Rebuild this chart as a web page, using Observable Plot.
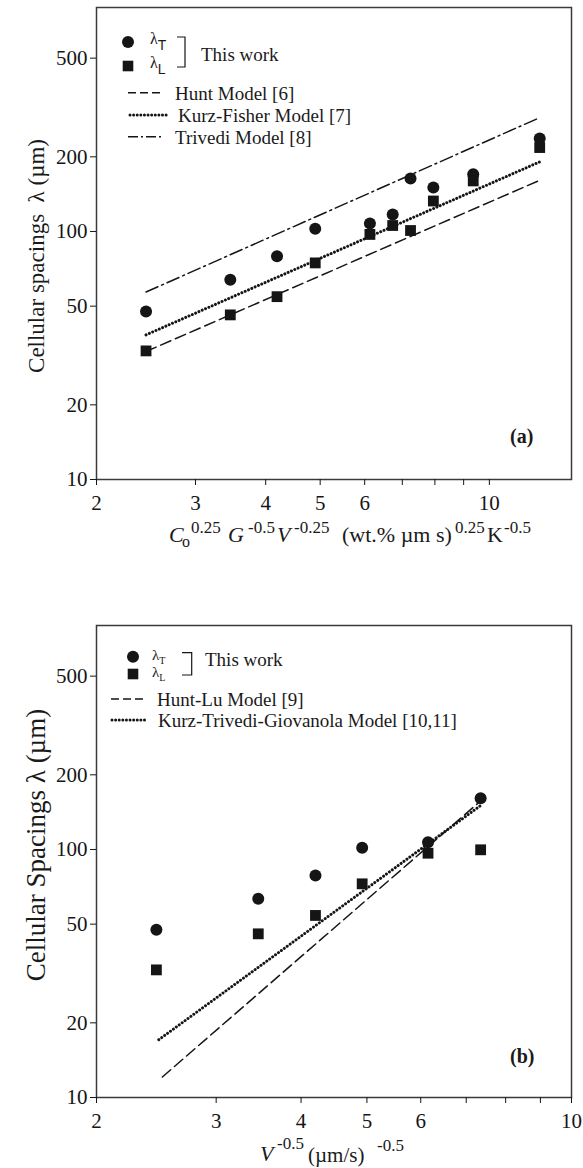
<!DOCTYPE html>
<html><head><meta charset="utf-8">
<script src="https://cdn.jsdelivr.net/npm/d3@7"></script>
<script src="https://cdn.jsdelivr.net/npm/@observablehq/plot@0.6"></script>
<style>
body{margin:0;background:#fff}
#wrap{position:relative;width:583px;height:1168px;font-family:"Liberation Serif","Times New Roman",serif;color:#1a1a1a;overflow:hidden}
#wrap svg{display:block}
.t{position:absolute;white-space:nowrap;line-height:1}
</style></head><body><div id="wrap"></div><script>
// ---------- data ----------
const yTicks = [10, 20, 50, 100, 200, 500];
const xTicksA = [2, 3, 4, 5, 6, 7, 8, 9, 10];
const xTicksB = [2, 3, 4, 5, 6, 7, 8, 9, 10];

// panel (a)
const xA    = [2.45, 3.46, 4.19, 4.90, 6.13, 6.73, 7.24, 7.95, 9.36, 12.29];
const lamTA = [47.6, 63.9, 79.4, 102.6, 107.7, 117.2, 163.4, 150.3, 170.2, 237];
const lamLA = [33.0, 46.1, 54.6, 74.7, 97.3, 105.7, 100.9, 132.7, 159.9, 218];
const modelXA     = [2.45, 12.3];
const huntA       = [32.8, 161];
const kurzFisherA = [38.3, 191];
const trivediA    = [57, 288];

// panel (b)
const xB    = [2.45, 3.46, 4.20, 4.92, 6.15, 7.35];
const lamTB = [47.5, 63.3, 78.5, 101.6, 107, 161];
const lamLB = [32.7, 45.7, 54.2, 72.7, 96.6, 99.7];
const ktgX  = [2.47, 7.39];
const ktgB  = [17.1, 152];
const huntLuX = [2.50, 7.35];
const huntLuB = [12.1, 157];

// ---------- helpers ----------
const wrap = document.getElementById("wrap");
const INK = "#151515";
const zipXY = (xs, ys) => xs.map((x, i) => ({x, y: ys[i]}));
const BEAD = {strokeWidth: 3, strokeDasharray: "0.01,3.6", strokeLinecap: "round"};
const DASH = {strokeWidth: 1.5, strokeDasharray: "11,5"};
const DASHDOT = {strokeWidth: 1.5, strokeDasharray: "13,4,2,4"};

function text(html, left, cy, size, extra = "") {
  const d = document.createElement("div");
  d.className = "t";
  d.style.cssText = `left:${left}px;top:${cy}px;font-size:${size}px;transform:translateY(-50%);${extra}`;
  d.innerHTML = html;
  wrap.appendChild(d);
  return d;
}
function vtext(html, cx, cy, size) {
  const d = document.createElement("div");
  d.className = "t";
  d.style.cssText = `left:${cx}px;top:${cy}px;font-size:${size}px;transform:translate(-50%,-50%) rotate(-90deg);`;
  d.innerHTML = html;
  wrap.appendChild(d);
}

function panel({xs, domainX, ticksX, marginTop, marginBottom, lines, T, L, height}) {
  return Plot.plot({
    width: 583, height, marginTop, marginBottom, marginLeft: 96, marginRight: 12,
    x: {type: "log", domain: domainX},
    y: {type: "log", domain: [10, 800]},
    style: {fontFamily: '"Liberation Serif", serif', fontSize: "21px", color: INK, background: "white", overflow: "visible"},
    marks: [
      Plot.frame({stroke: "#3a3a3a", strokeWidth: 1.5}),
      Plot.axisX(ticksX, {tickSize: 6, tickPadding: 10, tickFormat: d => String(d), label: null, strokeWidth: 1, fontSize: 21}),
      Plot.axisY(yTicks, {tickSize: 6, tickPadding: 3, tickFormat: d => String(d), label: null, strokeWidth: 1, fontSize: 21}),
      ...lines.map(l => Plot.line(l.data, {x: "x", y: "y", stroke: INK, ...l.style})),
      Plot.dot(zipXY(xs, T), {x: "x", y: "y", symbol: "circle", r: 6, fill: INK}),
      Plot.dot(zipXY(xs, L), {x: "x", y: "y", symbol: "square", r: 6.1, fill: INK})
    ]
  });
}

// ---------- panel (a) ----------
const svgA = panel({
  xs: xA, domainX: [2, 14], ticksX: xTicksA, marginTop: 7, marginBottom: 105, height: 584,
  T: lamTA, L: lamLA,
  lines: [
    {data: zipXY(modelXA, huntA), style: DASH},
    {data: zipXY(modelXA, kurzFisherA), style: BEAD},
    {data: zipXY(modelXA, trivediA), style: DASHDOT}
  ]
});
wrap.appendChild(svgA);

// ---------- panel (b) ----------
const svgB = panel({
  xs: xB, domainX: [2, 10], ticksX: xTicksB, marginTop: 41, marginBottom: 71, height: 584,
  T: lamTB, L: lamLB,
  lines: [
    {data: zipXY(huntLuX, huntLuB), style: DASH},
    {data: zipXY(ktgX, ktgB), style: BEAD}
  ]
});
wrap.appendChild(svgB);

// ---------- legends (drawn in pixel space) ----------
function legendShapes(svg, dy, cfg) {
  const g = d3.select(svg).append("g").attr("transform", `translate(0,${-dy})`).attr("fill", INK).attr("stroke", "none");
  g.append("circle").attr("cx", cfg.cx).attr("cy", cfg.cT).attr("r", 6);
  g.append("rect").attr("x", cfg.cx - 5.3).attr("y", cfg.cL - 5.3).attr("width", 10.6).attr("height", 10.6);
  g.append("path").attr("d", `M${cfg.bx0},${cfg.by0}H${cfg.bx1}V${cfg.by1}H${cfg.bx0}`)
    .attr("fill", "none").attr("stroke", INK).attr("stroke-width", 1.2);
  for (const s of cfg.samples) {
    const ln = g.append("line").attr("x1", s.x0).attr("x2", s.x1).attr("y1", s.y).attr("y2", s.y)
      .attr("stroke", INK).attr("stroke-width", s.style.strokeWidth).attr("stroke-dasharray", s.style.strokeDasharray);
    if (s.style.strokeLinecap) ln.attr("stroke-linecap", s.style.strokeLinecap);
  }
}
legendShapes(svgA, 0, {
  cx: 128, cT: 42, cL: 66, bx0: 177, bx1: 185, by0: 37, by1: 67,
  samples: [
    {x0: 128, x1: 164, y: 92.7, style: {strokeWidth: 1.5, strokeDasharray: "8,4"}},
    {x0: 130, x1: 169, y: 115, style: BEAD},
    {x0: 128, x1: 162, y: 136.7, style: {strokeWidth: 1.5, strokeDasharray: "10,3,2,3"}}
  ]
});
legendShapes(svgB, 584, {
  cx: 133, cT: 656.7, cL: 674, bx0: 182, bx1: 191.7, by0: 652.7, by1: 675,
  samples: [
    {x0: 111, x1: 143, y: 699, style: {strokeWidth: 1.5, strokeDasharray: "8,4"}},
    {x0: 112, x1: 147, y: 720, style: BEAD}
  ]
});

// legend text (a)
text(`<span style="position:relative;top:-4px">λ</span><span style="font-family:'Liberation Sans',sans-serif;font-size:14px;position:relative;top:2px">T</span>`, 150, 43, 16);
text(`<span style="position:relative;top:-4px">λ</span><span style="font-family:'Liberation Sans',sans-serif;font-size:14px;position:relative;top:2px">L</span>`, 150, 67, 16);
text("This work", 201, 54, 19);
text("Hunt Model [6]", 175, 92.5, 19);
text("Kurz-Fisher Model [7]", 178, 115, 19);
text("Trivedi Model [8]", 175, 136.5, 19);
text("<b>(a)</b>", 510, 436, 20);

// legend text (b)
text(`λ<span style="font-size:10px;position:relative;top:4px">T</span>`, 152, 655, 15);
text(`λ<span style="font-size:10px;position:relative;top:4px">L</span>`, 152, 672, 15);
text("This work", 205, 659, 19);
text("Hunt-Lu Model [9]", 157, 698.5, 19);
text("Kurz-Trivedi-Giovanola Model [10,11]", 158, 720, 19);
text("<b>(b)</b>", 510, 1056, 20);

// axis titles
vtext("Cellular spacings&nbsp; λ (µm)", 36, 256, 23);
vtext("Cellular Spacings λ (µm)", 36, 845, 27);

// x title (a): pieces of one label, placed along the baseline
text("<i>C</i>", 169, 535, 22);
text("o", 182, 542, 16);
text("0.25", 191, 527, 17);
text("<i>G</i>", 228, 535, 22);
text("-0.5", 248, 527, 17);
text("<i>V</i>", 277, 535, 22);
text("-0.25", 294, 527, 17);
text("(wt.% µm s)", 342, 535, 22);
text("0.25", 455, 527, 17);
text("K", 487, 535, 22);
text("-0.5", 504, 527, 17);

// x title (b)
text("<i>V</i>", 260, 1154, 22);
text("-0.5", 277, 1143, 17);
text("(µm/s)", 308, 1155, 21);
text("-0.5", 377, 1145, 17);
</script></body></html>
